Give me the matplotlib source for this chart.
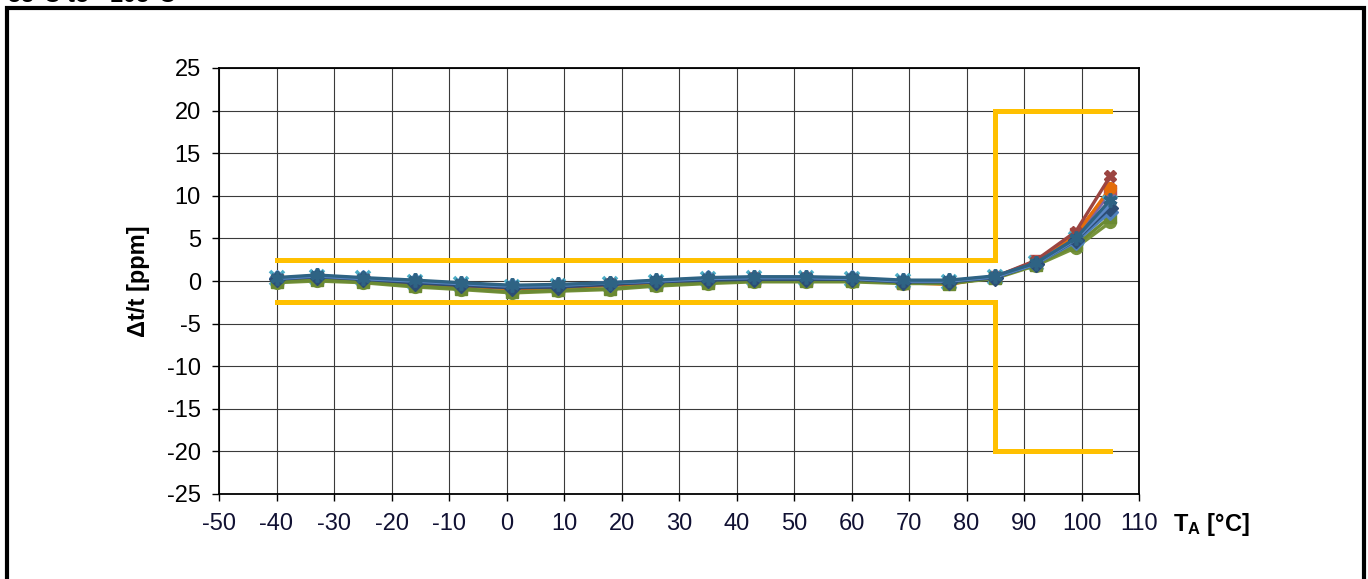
import matplotlib
matplotlib.use("Agg")
import matplotlib.pyplot as plt
from matplotlib.patches import Rectangle

plt.rcParams['font.family'] = ['Liberation Sans', 'DejaVu Sans']
plt.rcParams['mathtext.fontset'] = 'custom'
plt.rcParams['mathtext.rm'] = 'Liberation Sans'
plt.rcParams['mathtext.bf'] = 'Liberation Sans:bold'
plt.rcParams['axes.unicode_minus'] = False

# ---- data ----
temps = [-40, -33, -25, -16, -8, 1, 9, 18, 26, 35, 43, 52, 60, 69, 77, 85, 92, 99, 105]

s_blue = [0.3, 0.6, 0.3, 0.0, -0.3, -0.6, -0.5, -0.3, 0.0, 0.3, 0.4, 0.4, 0.3, 0.0, 0.0, 0.5, 2.0, 4.6, 8.1]
s_red = [0.1, 0.4, 0.1, -0.3, -0.6, -0.9, -0.8, -0.5, -0.3, 0.0, 0.1, 0.1, 0.1, -0.2, -0.2, 0.5, 2.3, 5.5, 10.6]
s_green = [-0.2, 0.0, -0.2, -0.7, -1.0, -1.4, -1.2, -1.0, -0.6, -0.3, -0.1, -0.1, -0.1, -0.3, -0.3, 0.3, 1.8, 3.9, 6.9]
s_purple = [0.2, 0.5, 0.2, -0.2, -0.5, -0.8, -0.7, -0.4, -0.2, 0.1, 0.2, 0.2, 0.2, -0.1, -0.1, 0.5, 2.1, 5.2, 10.3]
s_aqua = [0.3, 0.5, 0.3, -0.1, -0.4, -0.7, -0.6, -0.3, -0.1, 0.2, 0.3, 0.3, 0.2, 0.0, -0.1, 0.5, 2.1, 4.9, 9.1]
s_orange = [0.1, 0.4, 0.1, -0.3, -0.6, -0.9, -0.8, -0.5, -0.2, 0.0, 0.1, 0.0, 0.0, -0.2, -0.4, 0.5, 2.2, 5.4, 10.9]
s_dkblue = [0.2, 0.5, 0.2, -0.2, -0.5, -0.8, -0.7, -0.4, -0.1, 0.1, 0.2, 0.2, 0.2, -0.1, -0.1, 0.4, 2.0, 4.8, 8.6]
s_dkred = [0.2, 0.5, 0.2, -0.2, -0.5, -0.8, -0.7, -0.4, -0.1, 0.2, 0.3, 0.3, 0.2, -0.1, -0.1, 0.5, 2.4, 5.8, 12.3]
s_dkgreen = [-0.1, 0.1, -0.1, -0.6, -0.9, -1.3, -1.1, -0.9, -0.5, -0.2, 0.0, 0.0, 0.0, -0.2, -0.3, 0.4, 1.9, 4.2, 7.5]
s_teal = [0.4, 0.7, 0.4, 0.1, -0.2, -0.5, -0.4, -0.2, 0.1, 0.4, 0.5, 0.5, 0.4, 0.1, 0.1, 0.6, 2.1, 5.0, 9.5]
s_steel = [0.3, 0.6, 0.3, 0.0, -0.3, -0.6, -0.5, -0.2, 0.0, 0.3, 0.4, 0.4, 0.3, 0.0, 0.0, 0.5, 2.0, 4.9, 9.0]

limit_x = [-40, 85, 85, 105]
limit_upper = [2.5, 2.5, 20, 20]
limit_lower = [-2.5, -2.5, -20, -20]

x_ticks = list(range(-50, 111, 10))
y_ticks = list(range(-25, 26, 5))

series = [
    (s_red, '#C0504D', 's'),
    (s_purple, '#8064A2', '^'),
    (s_orange, '#E46C0A', 'o'),
    (s_aqua, '#4BACC6', 'x'),
    (s_dkred, '#9C4541', 'X'),
    (s_green, '#77933C', 'o'),
    (s_dkgreen, '#6B8A33', 's'),
    (s_blue, '#4F81BD', 'D'),
    (s_dkblue, '#2C4D75', 'D'),
    (s_steel, '#5B87C5', None),
    (s_teal, '#2E6384', (6, 2, 0)),
]

fig = plt.figure(figsize=(13.68, 5.79), dpi=100)
W, H = 1368, 579

# outer frame
fig.patches.append(Rectangle((7 / W, -0.1), (1364 - 7) / W, 1.1 - 8 / H,
                             transform=fig.transFigure, fill=False,
                             edgecolor='black', linewidth=3, zorder=0))

fig.text(0.0, 1 - 2 / H, '-55°C to +105°C', fontsize=17, fontweight='bold',
         va='baseline', ha='left')

ax = fig.add_axes([219 / W, 1 - 494 / H, (1139 - 219) / W, (494 - 68) / H])

ax.plot(limit_x, limit_upper, color='#FFC000', lw=3.6, solid_joinstyle='miter', zorder=2)
ax.plot(limit_x, limit_lower, color='#FFC000', lw=3.6, solid_joinstyle='miter', zorder=2)

for vals, col, mk in series:
    if mk is None:
        ax.plot(temps, vals, color=col, lw=2.6, zorder=3)
    elif mk in ('x', (6, 2, 0)):
        ax.plot(temps, vals, color=col, lw=2.4, marker=mk, markersize=10,
                markeredgewidth=2.6, markeredgecolor=col, zorder=3)
    else:
        ax.plot(temps, vals, color=col, lw=2.4, marker=mk, markersize=8.5,
                markerfacecolor=col, markeredgecolor=col, zorder=3)

ax.set_xlim(-50, 110)
ax.set_ylim(-25, 25)
ax.set_xticks(x_ticks)
ax.set_yticks(y_ticks)
ax.grid(True, color='#3a3a3a', linewidth=0.8, zorder=1)
ax.set_axisbelow(True)
for sp in ax.spines.values():
    sp.set_color('black')
    sp.set_linewidth(1.3)
ax.tick_params(axis='both', direction='out', length=5, width=1, labelsize=17, pad=8)
ax.tick_params(axis='x', labelcolor='#111133', pad=9)

ax.set_ylabel('Δt/t [ppm]', fontsize=17, fontweight='bold', labelpad=12)

fig.text(1173 / W, 1 - 524 / H, r'$\mathbf{T_A}$ [°C]', fontsize=17,
         fontweight='bold', va='center', ha='left')

fig.savefig('out.png', dpi=100)
